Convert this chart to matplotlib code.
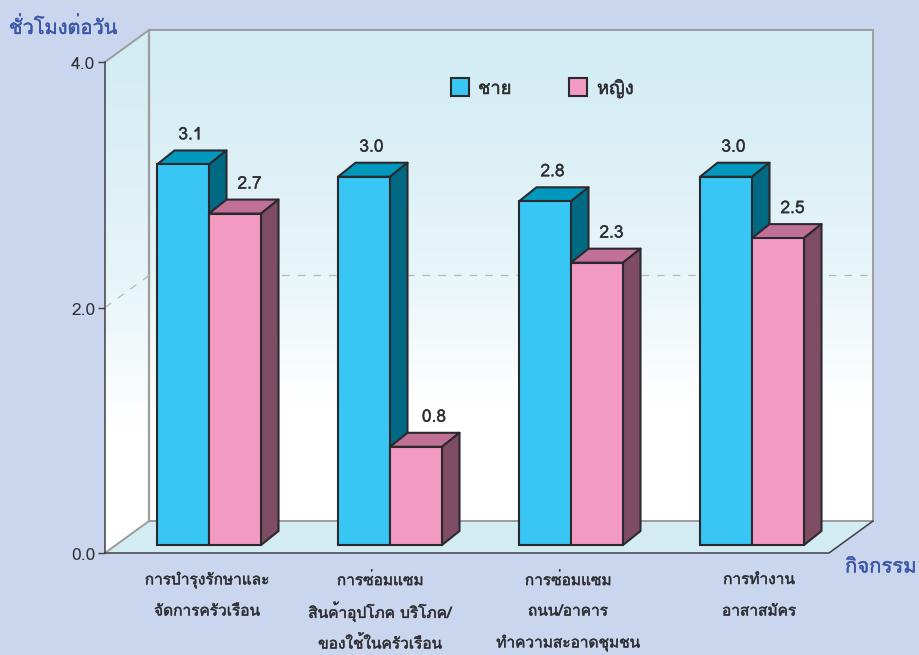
import logging
import numpy as np
import matplotlib
matplotlib.use('Agg')
import matplotlib.pyplot as plt
import matplotlib.patheffects as pe
from matplotlib.patches import Polygon, Rectangle
from matplotlib.colors import LinearSegmentedColormap
from matplotlib.transforms import ScaledTranslation
logging.getLogger('matplotlib.font_manager').setLevel(logging.ERROR)
plt.rcParams['font.family'] = ['Loma', 'Noto Sans Thai', 'DejaVu Sans']

categories = [['การบำรุงรักษาและ', 'จัดการครัวเรือน'],
              ['การซ่อมแซม', 'สินค้าอุปโภค บริโภค/', 'ของใช้ในครัวเรือน'],
              ['การซ่อมแซม', 'ถนน/อาคาร', 'ทำความสะอาดชุมชน'],
              ['การทำงาน', 'อาสาสมัคร']]
male = [3.1, 3.0, 2.8, 3.0]
female = [2.7, 0.8, 2.3, 2.5]
ticks = [0, 2, 4]
tick_labels = ['0.0', '2.0', '4.0']
series_names = ['ชาย', 'หญิง']
y_title = 'ชั่วโมงต่อวัน'
x_title = 'กิจกรรม'

W, H = 919, 655
PX = 122.75          # pixels per unit of value
Y0 = 553             # pixel row of value 0 on the front plane
def vp(py):          # pixel row -> value coordinate
    return (Y0 - py) / PX

BG = '#cad6ee'; FLOOR = '#d3ecf3'; TXT = '#2f2f33'; TITLE = '#3c56a8'
GRAY = '#9c9c9c'; DARK = '#3f3f45'; EDGE = '#2a2a2e'; DASH = '#b8b8b8'
BLUE = ('#38c6f5', '#0099bd', '#006a85')
PINK = ('#f39ac3', '#c17096', '#7f4d63')
def medium(color, w=0.3):
    return [pe.withStroke(linewidth=w, foreground=color)]

fig = plt.figure(figsize=(W/100, H/100), dpi=100, facecolor=BG)
ax = fig.add_axes([0, 0, 1, 1], facecolor='none')

LX, RX = 105, 829         # front plane
WDX, WDY = 44, 32/PX      # wall depth
cmap = LinearSegmentedColormap.from_list('w', [(0, FLOOR), (0.1, '#d5edf4'), (0.5, '#e8f5f9'), (0.76, '#ffffff'), (1, '#ffffff')])
grad = np.linspace(0, 1, 256)[:, None]
top, bot = 4 + WDY, 0 + WDY

ax.imshow(grad, cmap=cmap, aspect='auto', extent=(LX+WDX, RX+WDX, bot, top), zorder=1, vmin=0, vmax=1)
im = ax.imshow(grad, cmap=cmap, aspect='auto', extent=(LX, LX+WDX, 0, top), zorder=1, vmin=0, vmax=1)
clip = Polygon([(LX, 0), (LX+WDX, bot), (LX+WDX, top), (LX, 4)], closed=True, transform=ax.transData, fc='none', ec='none')
ax.add_patch(clip); im.set_clip_path(clip)
ax.set_xlim(0, W); ax.set_ylim(vp(H), vp(0))
ax.add_patch(Polygon([(LX, 0), (LX+WDX, bot), (RX+WDX, bot), (RX, 0)], fc=FLOOR, ec='none', zorder=2))
ax.plot([LX, LX+WDX, RX+WDX, RX+WDX], [4, top, top, bot], color=GRAY, lw=1.4, zorder=3, solid_joinstyle='miter')
ax.plot([LX+WDX, LX+WDX], [top, bot], color=GRAY, lw=1.6, zorder=3)
ax.plot([LX, LX+WDX, RX+WDX], [0, bot, bot], color=GRAY, lw=1.4, zorder=3)
ax.plot([LX, RX, RX+WDX], [0, 0, bot], color=DARK, lw=1.1, zorder=3)
ax.plot([LX, LX+WDX, RX+WDX], [2, 2+WDY, 2+WDY], color=DASH, lw=0.9, dashes=(6, 6.5), zorder=3)

ax.spines[['top', 'right', 'bottom']].set_visible(False)
ax.spines['left'].set_position(('data', LX))
ax.spines['left'].set_bounds(0, 4)
ax.spines['left'].set_color(DARK); ax.spines['left'].set_linewidth(1.1); ax.spines['left'].set_zorder(4)
ax.set_xticks([])
ax.set_yticks(ticks, tick_labels, fontsize=12.5, color=TXT)
ax.tick_params(axis='y', length=5, width=1, color=DARK, pad=2)
for t in ax.get_yticklabels():
    t.set_transform(t.get_transform() + ScaledTranslation(0, -2.5/72, fig.dpi_scale_trans))
    t.set_va('center')

BW, STEP, START = 52, 181, 157
DDX, DDY = 17.5, 14/PX
BASE = vp(545)
def bar3d(x, v, cols, z):
    y1 = BASE + v
    ax.bar(x, v, BW, bottom=BASE, align='edge', color=cols[0], edgecolor=EDGE, linewidth=1.5, zorder=z+.2)
    ax.add_patch(Polygon([(x, y1), (x+DDX, y1+DDY), (x+BW+DDX, y1+DDY), (x+BW, y1)], fc=cols[1], ec=EDGE, lw=1.5, zorder=z, joinstyle='round'))
    ax.add_patch(Polygon([(x+BW, BASE), (x+BW+DDX, BASE+DDY), (x+BW+DDX, y1+DDY), (x+BW, y1)], fc=cols[2], ec=EDGE, lw=1.5, zorder=z, joinstyle='round'))

for i, (m, f) in enumerate(zip(male, female)):
    x = START + STEP*i
    bar3d(x, m, BLUE, 5)
    bar3d(x+BW, f, PINK, 6)
    ax.text(x+BW/2+7.5, BASE+m+29/PX, f'{m:.1f}', ha='center', va='center', fontsize=12.5, color=TXT, zorder=9, path_effects=medium(TXT, 0.2))
    ax.text(x+1.5*BW+(18 if f < 1 else 14.5), BASE+f+29/PX, f'{f:.1f}', ha='center', va='center', fontsize=12.5, color=TXT, zorder=9, path_effects=medium(TXT, 0.2))

for px, col, name, tx in zip([451, 569], [BLUE[0], PINK[0]], series_names, [478, 597]):
    ax.add_patch(Rectangle((px, vp(96)), 18, 18/PX, fc=col, ec=EDGE, lw=1.5, zorder=8))
    ax.text(tx, vp(89), name, ha='left', va='center', fontsize=13.2, color=TXT, zorder=9, path_effects=medium(TXT, 0.35))

for cx, lines in zip([207, 380, 568, 759], categories):
    for j, s in enumerate(lines):
        ax.text(cx, vp(580 + 31.5*j), s, ha='center', va='center', fontsize=11.1, color=TXT, path_effects=medium(TXT, 0.3))

ax.text(9, vp(28), y_title, ha='left', va='center', fontsize=14.4, color=TITLE, path_effects=medium(TITLE, 0.3))
ax.text(845, vp(567), x_title, ha='left', va='center', fontsize=14.6, color=TITLE, path_effects=medium(TITLE, 0.3))
fig.savefig('out.png', dpi=100, facecolor=BG)
